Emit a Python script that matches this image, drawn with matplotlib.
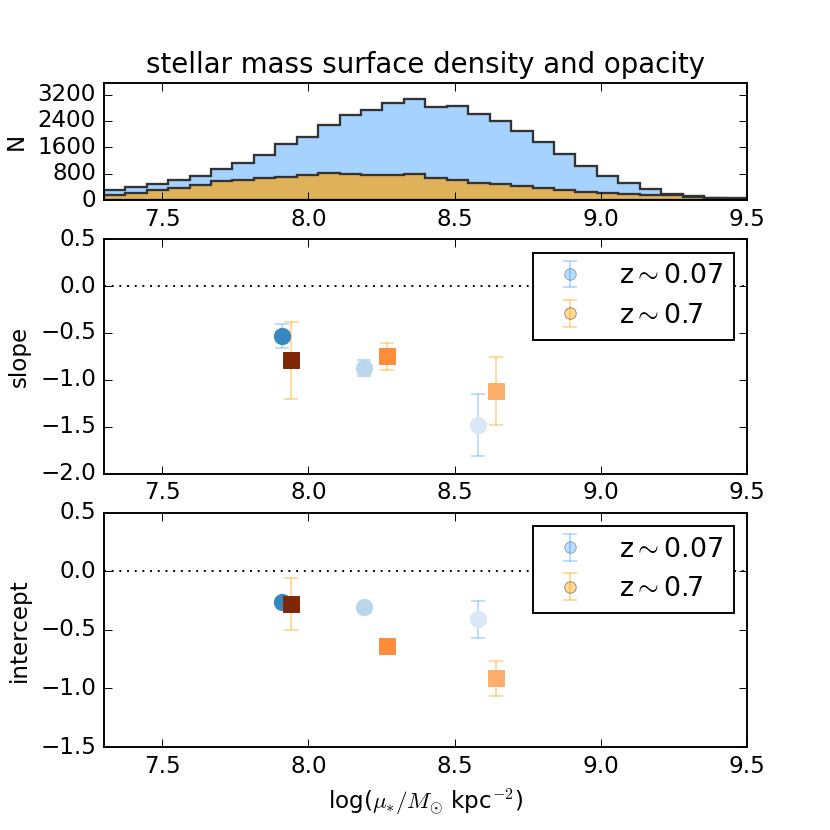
import numpy as np
import matplotlib.pyplot as plt
from matplotlib.colors import to_rgba

plt.style.use('classic')
plt.rcParams['figure.facecolor'] = 'white'
plt.rcParams['savefig.facecolor'] = 'white'

# histogram of log(mu_*) -- 30 bins from 7.3 to 9.5
bin_edges = np.linspace(7.3, 9.5, 31)
n_all = [300, 400, 500, 620, 730, 950, 1140, 1380, 1700, 1910,
         2280, 2580, 2730, 2940, 3080, 2830, 2850, 2610, 2400, 2100,
         1750, 1410, 1030, 730, 530, 340, 180, 130, 80, 60]
n_hiz = [150, 230, 310, 380, 460, 570, 620, 680, 710, 760,
         820, 800, 750, 760, 800, 680, 620, 530, 480, 420,
         360, 300, 250, 230, 180, 170, 150, 100, 70, 40]

# fit results in three mu_* bins
x_lowz = [7.91, 8.19, 8.58]
x_hiz = [7.94, 8.27, 8.64]

slope_lowz = [-0.53, -0.87, -1.48]
slope_lowz_err = [0.125, 0.085, 0.333]
slope_hiz = [-0.79, -0.75, -1.12]
slope_hiz_err = [0.41, 0.142, 0.367]

icpt_lowz = [-0.265, -0.307, -0.41]
icpt_lowz_err = [0.03, 0.03, 0.158]
icpt_hiz = [-0.279, -0.635, -0.913]
icpt_hiz_err = [0.225, 0.02, 0.148]

cols_lowz = ['#3787c0', '#bad6eb', '#dae8f5']
cols_hiz = ['#7f2704', '#fd8c3b', '#fdae6b']

fig, axes = plt.subplots(3, 1, figsize=(6, 6), gridspec_kw={'height_ratios': [1, 2, 2]})

ax = axes[0]
centers = 0.5 * (bin_edges[1:] + bin_edges[:-1])
ax.hist(centers, bins=bin_edges, weights=n_all, histtype='stepfilled',
        facecolor=to_rgba('dodgerblue', 0.4), edgecolor='0.2', lw=1.2)
ax.hist(centers, bins=bin_edges, weights=n_hiz, histtype='stepfilled',
        facecolor='#dfb25a', edgecolor='0.2', lw=1.2)
ax.set_ylim(0, 3550)
ax.set_yticks([0, 800, 1600, 2400, 3200])
ax.set_xlim(7.3, 9.5)
ax.set_ylabel('N')
ax.set_title('stellar mass surface density and opacity')

panels = [(axes[1], slope_lowz, slope_lowz_err, slope_hiz, slope_hiz_err, (-2.0, 0.5), 'slope'),
          (axes[2], icpt_lowz, icpt_lowz_err, icpt_hiz, icpt_hiz_err, (-1.5, 0.5), 'intercept')]

for ax, ly, le, hy, he, yl, lab in panels:
    ax.axhline(0, color='k', ls=':', lw=1)
    ax.errorbar(x_lowz, ly, yerr=le, fmt='o', color='dodgerblue', alpha=0.3,
                elinewidth=1, capsize=3.5, capthick=1, label=r'z$\sim$0.07')
    ax.errorbar(x_hiz, hy, yerr=he, fmt='o', color='orange', alpha=0.4,
                elinewidth=1, capsize=3.5, capthick=1, label=r'z$\sim$0.7')
    for i in range(3):
        ax.plot(x_lowz[i], ly[i], 'o', color=cols_lowz[i], mec=cols_lowz[i], ms=8.5, zorder=5)
        ax.plot(x_hiz[i], hy[i], 's', color=cols_hiz[i], mec=cols_hiz[i], ms=8.5, zorder=5)
    ax.set_xlim(7.3, 9.5)
    ax.set_ylim(*yl)
    ax.set_yticks(np.arange(yl[0], yl[1] + 0.01, 0.5))
    ax.set_ylabel(lab)
    ax.legend(loc='upper right', numpoints=1, fontsize=14)

axes[2].set_xlabel(r'log($\mu_{*}/M_{\odot}$ kpc$^{-2}$)')

fig.savefig('out.png', dpi=830 / 6.0)
